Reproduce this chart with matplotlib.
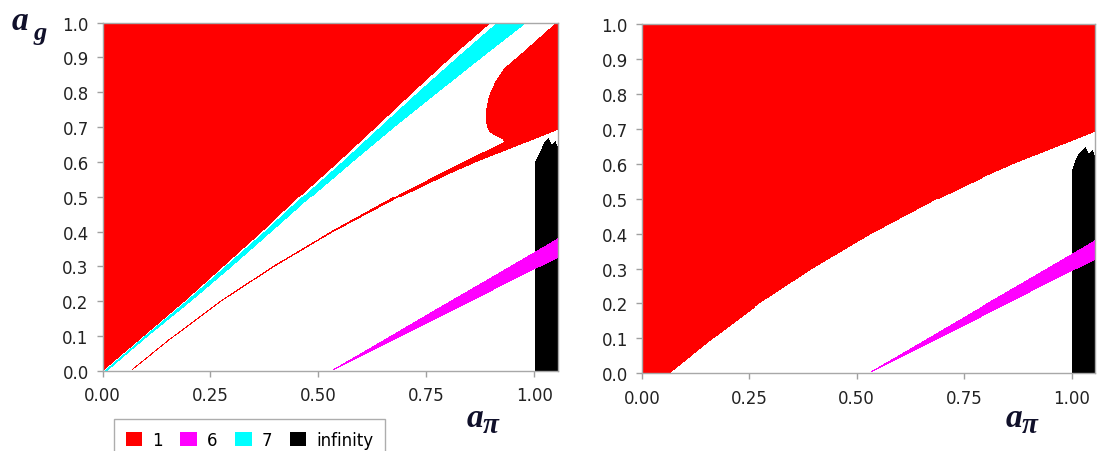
import numpy as np
import matplotlib.pyplot as plt
from matplotlib.colors import ListedColormap
from matplotlib.patches import Patch

# Period map: 0 = none, 1 = period 1, 2 = period 6, 3 = period 7, 4 = infinity
legend_labels = ['1', '6', '7', 'infinity']
legend_colors = ['#ff0000', '#ff00ff', '#00ffff', '#000000']

X_MAX = 1.055

# left panel: red wedge / cyan strip edges, x given per a_g level
edge_y = [0.0, 0.1, 0.2, 0.3, 0.4, 0.5, 0.6, 0.7, 0.8, 0.9, 1.0]
red_edge_x = [0.0, 0.095, 0.19, 0.28, 0.37, 0.455, 0.545, 0.632, 0.718, 0.806, 0.899]
cyan_lo_x = [0.003, 0.097, 0.193, 0.284, 0.375, 0.462, 0.553, 0.641, 0.729, 0.82, 0.913]
cyan_hi_x = [0.010, 0.105, 0.205, 0.300, 0.392, 0.483, 0.578, 0.675, 0.776, 0.878, 0.982]

# left panel: upper-right red lobe, left boundary
lobe_y = [0.62, 0.645, 0.665, 0.675, 0.685, 0.70, 0.725, 0.75, 0.79, 0.83, 0.87, 0.91, 0.945, 0.978, 1.0]
lobe_x = [0.960, 0.940, 0.925, 0.910, 0.896, 0.889, 0.886, 0.887, 0.894, 0.908, 0.930, 0.968, 1.000, 1.030, 1.050]

# lower edge of red region (right panel) = thin red band (left panel)
band_x = [0.066, 0.15, 0.276, 0.40, 0.53, 0.69, 0.80, 0.87, 1.0, 1.055]
band_y = [0.0, 0.084, 0.2, 0.3, 0.395, 0.5, 0.565, 0.603, 0.666, 0.693]
band_w_x = [0.066, 0.5, 0.7, 0.8, 0.9, 0.95, 1.055]
band_w = [0.004, 0.005, 0.010, 0.015, 0.022, 0.030, 0.030]

# period-6 wedge
wedge_x = [0.533, 0.65, 0.77, 0.90, 1.0, 1.055]
wedge_lo = [0.0, 0.073, 0.147, 0.228, 0.29, 0.323]
wedge_hi = [0.004, 0.088, 0.175, 0.268, 0.34, 0.38]

# divergent strip at a_pi > 1, ragged top edge
inf_x = [1.0, 1.008, 1.016, 1.024, 1.032, 1.04, 1.048, 1.055]
inf_top_left = [0.60, 0.62, 0.64, 0.66, 0.67, 0.65, 0.66, 0.64]
inf_top_right = [0.58, 0.61, 0.63, 0.64, 0.65, 0.63, 0.64, 0.62]


def build_grid(panel, nx=456, ny=350):
    xs = np.linspace(0, X_MAX, nx)
    ys = np.linspace(0, 1, ny)
    X, Y = np.meshgrid(xs, ys)
    Z = np.zeros_like(X, dtype=int)

    B = np.interp(X, band_x, band_y, left=-1.0)

    # infinity strip, magenta drawn over it
    tops = inf_top_left if panel == 'left' else inf_top_right
    Z[(X >= inf_x[0]) & (Y <= np.interp(X, inf_x, tops))] = 4
    wlo = np.interp(X, wedge_x, wedge_lo, left=2.0)
    whi = np.interp(X, wedge_x, wedge_hi, left=-2.0)
    Z[(Y >= wlo) & (Y <= whi)] = 2

    if panel == 'right':
        Z[Y >= B] = 1
    else:
        W = np.interp(X, band_w_x, band_w)
        Z[(X >= band_x[0]) & (Y >= B) & (Y <= B + W)] = 1
        lx = np.interp(Y, lobe_y, lobe_x, left=9.0)
        Z[(Y >= B) & (X >= lx)] = 1
        clo = np.interp(Y, edge_y, cyan_lo_x)
        chi = np.interp(Y, edge_y, cyan_hi_x)
        Z[(X >= clo) & (X <= chi)] = 3
        Z[X <= np.interp(Y, edge_y, red_edge_x)] = 1
    return Z


cmap = ListedColormap(['#ffffff'] + legend_colors)

fig = plt.figure(figsize=(10.98, 4.52), dpi=100)
ax_l = fig.add_axes([0.0934, 0.177, 0.4148, 0.771])
ax_r = fig.add_axes([0.5845, 0.172, 0.4130, 0.772])

for ax, panel in [(ax_l, 'left'), (ax_r, 'right')]:
    Z = build_grid(panel)
    ax.imshow(Z, cmap=cmap, vmin=0, vmax=4, origin='lower', aspect='auto',
              extent=[0, X_MAX, 0, 1], interpolation='nearest')
    ax.set_xlim(0, X_MAX)
    ax.set_ylim(0, 1)
    ax.set_xticks([0, 0.25, 0.5, 0.75, 1.0])
    ax.set_xticklabels(['0.00', '0.25', '0.50', '0.75', '1.00'])
    ax.set_yticks(np.arange(0, 1.01, 0.1))
    ax.set_yticklabels([f'{v:.1f}' for v in np.arange(0, 1.01, 0.1)])
    ax.tick_params(direction='out', length=4, width=1, color='#a0a0a0',
                   labelsize=12, labelcolor='#222222')
    ax.tick_params(axis='x', pad=7)
    ax.tick_params(axis='y', pad=6)
    for sp in ax.spines.values():
        sp.set_color('#a8a8a8')
        sp.set_linewidth(1)

lab_font = dict(family='Liberation Serif', weight='bold', style='italic', color='#10102a')
fig.text(12 / 1098, 1 - 30 / 452, 'a', fontsize=24, **lab_font)
fig.text(33 / 1098, 1 - 40 / 452, 'g', fontsize=19, **lab_font)
for x0 in (467, 1006):
    fig.text(x0 / 1098, 1 - 427 / 452, 'a', fontsize=24, **lab_font)
    fig.text((x0 + 16) / 1098, 1 - 433 / 452, 'π', fontsize=21, **lab_font)

handles = [Patch(facecolor=c, edgecolor='none') for c in legend_colors]
leg = fig.legend(handles, legend_labels, loc='upper left', ncol=4,
                 bbox_to_anchor=(114 / 1098, 1 - 420 / 452), borderaxespad=0,
                 prop={'size': 12},
                 handlelength=1.0, handleheight=0.9, handletextpad=0.6,
                 columnspacing=1.05, fancybox=False, frameon=True,
                 borderpad=0.7)
leg.get_frame().set_edgecolor('#999999')
leg.get_frame().set_linewidth(1)

fig.savefig('out.png', dpi=100)
